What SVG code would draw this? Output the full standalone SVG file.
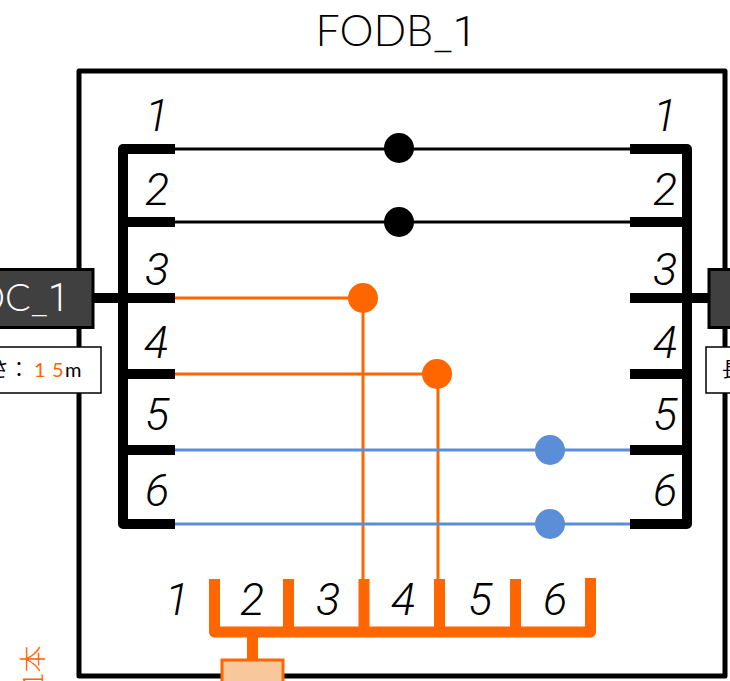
<svg xmlns="http://www.w3.org/2000/svg" width="730" height="681" viewBox="0 0 730 681">
<style>
text{font-family:"Lato","Noto Sans",sans-serif;fill:#000}
.n{font-family:"Roboto",sans-serif;font-size:45px;font-style:italic;font-weight:300;text-anchor:middle}
.r{font-family:"Roboto",sans-serif}
.b{fill:none;stroke:#000;stroke-width:10;stroke-linejoin:round}
.t{stroke:#000;stroke-width:10}
.w{fill:none;stroke-width:3}
.k{stroke:#000}.o{stroke:#ff6600}.u{stroke:#5b8ed6}
.ot{stroke:#ff6600;stroke-width:11}
.lab{fill:#fff;stroke:#000;stroke-width:1.5}
.lt{font-size:20px;font-family:"Lato","Noto Sans CJK JP",sans-serif}
</style>
<rect id="frame" x="79" y="71" width="646" height="605" fill="#fff" stroke="#000" stroke-width="5" stroke-linejoin="round"/>
<text id="title" x="396" y="46" font-size="43" font-weight="300" text-anchor="middle">FODB_<tspan class="r">1</tspan></text>
<g id="connectors">
<path class="w k" d="M175 149H632M175 222H632"/>
<path class="w o" d="M175 298H363V580M175 374H438V580"/>
<path class="w u" d="M175 450H632M175 524H632"/>
<path class="t" d="M94 298H118M692 298H708"/>
</g>
<g id="left-port">
<path class="b" d="M175 149H123V524H175"/>
<path class="t" d="M123 222H175M123 298H175M123 374H175M123 450H175"/>
<text class="n" x="157" y="131">1</text><text class="n" x="157" y="205">2</text><text class="n" x="157" y="285">3</text><text class="n" x="156" y="358">4</text><text class="n" x="157" y="430">5</text><text class="n" x="157" y="506">6</text>
</g>
<g id="right-port">
<path class="b" d="M630 149H687V524H630"/>
<path class="t" d="M630 222H687M630 298H687M630 374H687M630 450H687"/>
<text class="n" x="665" y="131">1</text><text class="n" x="665" y="205">2</text><text class="n" x="665" y="285">3</text><text class="n" x="665" y="358">4</text><text class="n" x="665" y="430">5</text><text class="n" x="665" y="506">6</text>
</g>
<g id="dots">
<circle cx="399" cy="148" r="15"/><circle cx="399" cy="222" r="15"/>
<circle cx="363" cy="298" r="15" fill="#ff6600"/><circle cx="437" cy="374" r="15" fill="#ff6600"/>
<circle cx="550" cy="450" r="15" fill="#5b8ed6"/><circle cx="550" cy="524" r="15" fill="#5b8ed6"/>
</g>
<g id="comb">
<path class="ot" fill="none" stroke-linejoin="round" d="M214.500 579V632H590.500V578"/>
<path class="ot" d="M288.500 579V632M364 579V632M439.500 579V632M515.500 579V632M252.500 632V660"/>
<rect x="222" y="660" width="61" height="30" fill="#f8c79b" stroke="#ff6600" stroke-width="3"/>
<text class="n" x="177" y="615">1</text><text class="n" x="252" y="615">2</text><text class="n" x="328" y="615">3</text><text class="n" x="403" y="615">4</text><text class="n" x="480" y="615">5</text><text class="n" x="555" y="615">6</text>
</g>
<g id="left-connector">
<rect x="-40" y="269.500" width="133" height="58" fill="#404040" stroke="#000" stroke-width="3"/>
<text x="69" y="311" font-size="38" font-weight="300" text-anchor="end" style="fill:#fff">DC_<tspan class="r">1</tspan></text>
<rect class="lab" x="-60" y="347" width="161" height="46"/>
<text class="lt" x="-31" y="377">長さ：<tspan x="34" style="fill:#ff6600">1</tspan><tspan x="52" style="fill:#ff6600">5</tspan><tspan x="65">m</tspan></text>
</g>
<g id="right-connector">
<rect x="709" y="269.500" width="60" height="58" fill="#404040" stroke="#000" stroke-width="3"/>
<rect class="lab" x="706" y="347" width="80" height="46"/>
<text class="lt" x="722" y="377">長さ</text>
</g>
<text id="side" transform="translate(43 687) rotate(-90)" font-size="27" style="fill:#ff6600;font-family:'Noto Sans CJK JP',sans-serif;font-weight:300">1本</text>
</svg>
